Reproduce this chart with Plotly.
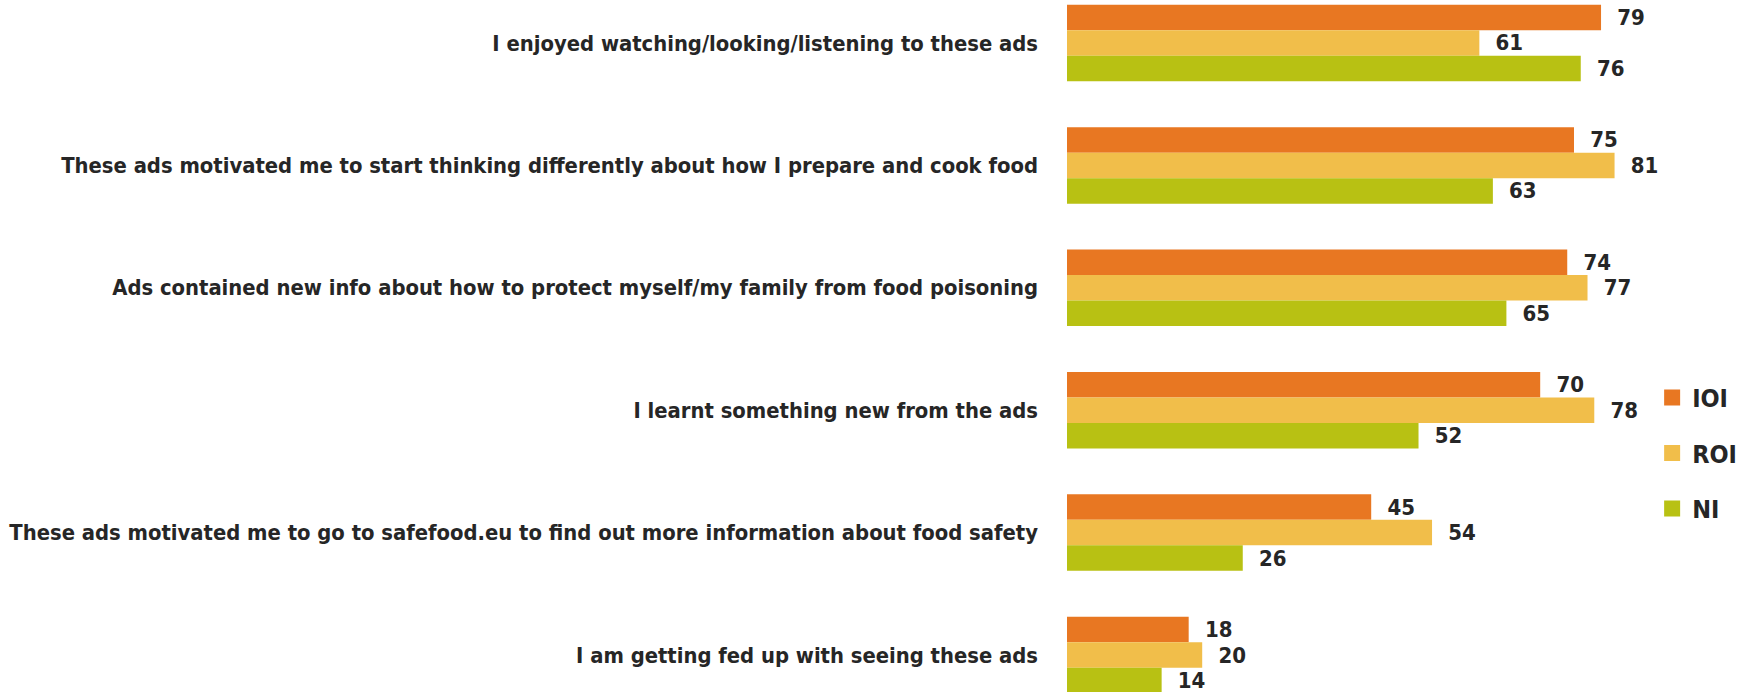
import plotly.graph_objects as go

categories = [
    "I enjoyed watching/looking/listening to these ads",
    "These ads motivated me to start thinking differently about how I prepare and cook food",
    "Ads contained new info about how to protect myself/my family from food poisoning",
    "I learnt something new from the ads",
    "These ads motivated me to go to safefood.eu to find out more information about food safety",
    "I am getting fed up with seeing these ads",
]
series_names = ["IOI", "ROI", "NI"]
ioi = [79, 75, 74, 70, 45, 18]
roi = [61, 81, 77, 78, 54, 20]
ni = [76, 63, 65, 52, 26, 14]
colors = ["#E87722", "#F1BE4A", "#B8C113"]

FONT = "Liberation Sans Narrow, DejaVu Sans Condensed, Arial Narrow, sans-serif"
TXT = "#262626"

fig = go.Figure()
for name, vals, col in zip(series_names, [ioi, roi, ni], colors):
    fig.add_trace(go.Bar(
        y=categories, x=vals, orientation="h", name=name,
        marker=dict(color=col, line=dict(width=0)),
        text=[f"\u2002\u2006{v}" for v in vals], textposition="outside",
        textfont=dict(family=FONT, size=22, color=TXT, weight="bold"),
        cliponaxis=False, showlegend=False, hoverinfo="skip",
    ))
    fig.add_trace(go.Scatter(
        x=[None], y=[None], mode="markers", name=name, legendgroup=name,
        marker=dict(symbol="square", size=18, color=col),
    ))

fig.update_layout(
    width=1752, height=692,
    margin=dict(l=1067, r=9, t=0, b=0, autoexpand=False),
    plot_bgcolor="white", paper_bgcolor="white",
    barmode="group", bargap=0.375, bargroupgap=0,
    font=dict(family=FONT, color=TXT, weight="bold"),
    legend=dict(xref="container", x=0.943, xanchor="left",
                yref="container", y=0.345, yanchor="middle",
                font=dict(family=FONT, size=25, color=TXT, weight="bold"),
                traceorder="grouped", tracegroupgap=20, itemwidth=30),
    xaxis=dict(range=[0, 100], visible=False),
    yaxis=dict(range=[5.302, -0.351], showgrid=False, showline=False,
               ticks="", ticklabelstandoff=28, automargin=False,
               tickfont=dict(family=FONT, size=21.8, color=TXT, weight="bold")),
)
fig.write_html("out.html", config={"displayModeBar": False},
               post_script="document.body.style.margin='0';")
